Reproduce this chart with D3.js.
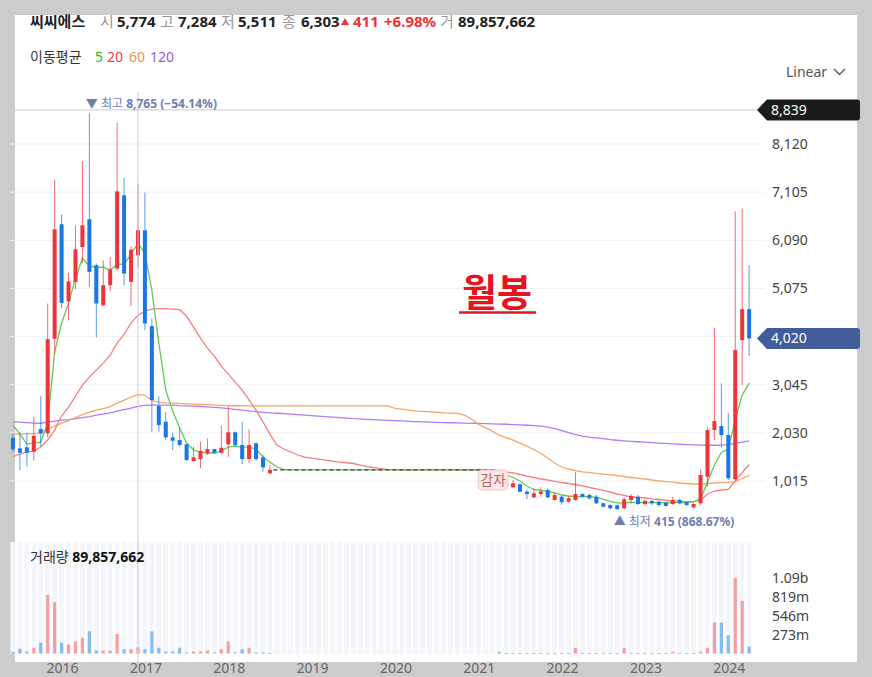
<!DOCTYPE html>
<html>
<head>
<meta charset="utf-8">
<script src="https://cdn.jsdelivr.net/npm/d3@7"></script>
<style>
  body { margin: 0; background: #cccccc; }
  svg { display: block; font-family: "Noto Sans", "Noto Sans CJK KR", sans-serif; }
</style>
</head>
<body>
<svg width="872" height="677"></svg>
<script>
// monthly candles, 2015-06 .. 2024-04 (trading halt 2018-08 .. 2021-03 -> null)
const months = d3.timeMonth.range(new Date(2015, 5, 1), new Date(2024, 4, 1));
const H = null;
const halt = Array(32).fill(H);

const open = [1927, 1704, 1725, 1632, 2110, 2020, 4012, 6427, 4806, 5212, 5949, 6533, 5564, 4722, 5143, 5494, 7038, 5212, 5774, 6301,
  4279, 2595, 2264, 1935, 1878, 1788, 1436, 1478, 1598, 1689, 1611, 1788, 2041, 1773, 1478, 1809, 1514, 1177,
  ...halt,
  1130, 990, 882, 946, 790, 672, 741, 825, 615, 684, 580, 615, 741, 720, 684, 545, 510, 503, 440, 615,
  684, 530, 594, 580, 558, 530, 615, 566, 460, 545, 1106, 2089, 2173, 1984, 1051, 3984, 4637];
const high = [2026, 2041, 2032, 2369, 2805, 4757, 7369, 6632, 5402, 6406, 7760, 8765, 5600, 5669, 5739, 8568, 7403, 5964, 7284, 7095,
  4441, 2805, 2475, 2032, 2146, 1800, 1738, 1843, 1914, 1689, 2180, 2595, 2062, 2264, 2104, 1830, 1563, 1352,
  ...halt,
  1180, 1060, 1036, 967, 840, 861, 882, 861, 769, 699, 699, 1198, 756, 756, 720, 566, 524, 524, 672, 741,
  720, 629, 615, 601, 580, 684, 643, 580, 558, 1261, 2146, 4243, 3073, 2453, 6701, 6758, 5564];
const low = [1626, 1247, 1316, 1442, 1752, 1927, 3704, 4652, 4400, 5058, 5600, 5107, 4041, 4700, 5016, 5459, 5143, 4708, 5511, 4195,
  2053, 2053, 1872, 1668, 1738, 1436, 1421, 1282, 1563, 1590, 1584, 1527, 1738, 1373, 1388, 1436, 1211, 1162,
  ...halt,
  980, 950, 875, 777, 630, 651, 684, 651, 600, 510, 559, 600, 664, 622, 530, 460, 419, 415, 419, 545,
  510, 495, 510, 474, 474, 510, 524, 489, 439, 510, 895, 1878, 1725, 1036, 1036, 3037, 3654];
const close = [1683, 1611, 1611, 1969, 2020, 4005, 6322, 4770, 5221, 5901, 6406, 5423, 4757, 5143, 5473, 7122, 5389, 5892, 6303, 4336,
  2721, 2195, 1935, 1864, 1773, 1457, 1514, 1647, 1689, 1611, 1716, 2041, 1773, 1478, 1773, 1478, 1303, 1250,
  ...halt,
  1000, 1020, 967, 790, 741, 756, 790, 672, 720, 566, 651, 741, 684, 650, 545, 474, 440, 419, 630, 699,
  530, 594, 545, 510, 489, 615, 545, 510, 530, 1141, 2089, 2279, 1984, 1072, 3774, 4637, 4020];
// volume, millions of shares
const volume = [25, 68, 29, 83, 156, 847, 740, 156, 131, 175, 229, 321, 44, 44, 44, 282, 63, 63, 89.857662, 63,
  321, 83, 29, 29, 83, 15, 29, 29, 44, 15, 63, 175, 15, 63, 83, 15, 15, 8,
  ...Array(32).fill(0),
  25, 5, 6, 3, 5, 5, 5, 3, 3, 3, 3, 83, 4, 3, 4, 3, 3, 3, 83, 8,
  4, 3, 3, 3, 3, 25, 8, 3, 4, 25, 83, 448, 448, 263, 1092, 760, 98];

// moving averages as drawn
const ma5 = [2195, 2005, 1794, 1815, 1836, 2237, 3732, 4342, 4764, 5290, 5711, 5543, 5522, 5522, 5459, 5585, 5585, 5796, 6027, 5817,
  5037, 3921, 2931, 2489, 2131, 1815, 1668, 1626, 1605, 1605, 1647, 1731, 1752, 1731, 1731, 1689, 1520, 1415, 1310, 1257,
  1250, 1250, 1250, 1250, 1250, 1250, 1250, 1250, 1250, 1250, 1250, 1250, 1250, 1250, 1250, 1250, 1250, 1250, 1250, 1250,
  1250, 1250, 1250, 1250, 1250, 1250, 1250, 1250, 1250, 1250,
  1205, 1152, 1089, 1015, 910, 836, 815, 790, 762, 720, 699, 684, 684, 684, 668, 625, 583, 552, 552, 562,
  566, 562, 558, 558, 558, 562, 566, 558, 573, 636, 994, 1352, 1615, 1689, 2300, 2826, 3079];
const ma20 = [1531, 1584, 1626, 1647, 1731, 1878, 2089, 2384, 2573, 2805, 3037, 3205, 3353, 3500, 3669, 3921, 4111, 4342, 4511, 4595,
  4637, 4648, 4648, 4637, 4627, 4490, 4258, 4027, 3816, 3648, 3437, 3268, 3100, 2931, 2721, 2510, 2258, 2005, 1773, 1689,
  1626, 1563, 1520, 1499, 1478, 1457, 1436, 1415, 1400, 1384, 1352, 1320, 1299, 1278, 1260, 1250, 1250, 1250, 1250, 1250,
  1250, 1250, 1250, 1250, 1250, 1250, 1250, 1250, 1250, 1250,
  1226, 1205, 1184, 1152, 1120, 1089, 1057, 1036, 1009, 983, 962, 941, 910, 878, 847, 815, 783, 741, 710, 678,
  668, 657, 636, 625, 609, 594, 587, 579, 579, 609, 741, 804, 825, 840, 1015, 1194, 1363];
const ma60 = [2005, 2005, 2015, 2015, 2026, 2110, 2173, 2237, 2289, 2352, 2415, 2468, 2510, 2542, 2584, 2658, 2721, 2784, 2837, 2826,
  2710, 2679, 2664, 2658, 2651, 2643, 2637, 2630, 2624, 2616, 2611, 2605, 2602, 2601, 2600, 2600, 2600, 2600, 2600, 2600,
  2600, 2600, 2600, 2600, 2600, 2600, 2600, 2600, 2600, 2600, 2600, 2600, 2600, 2600, 2600, 2546, 2531, 2510, 2495, 2485,
  2474, 2464, 2453, 2447, 2441, 2405, 2321, 2215, 2142, 2068,
  1984, 1931, 1878, 1815, 1752, 1678, 1594, 1499, 1394, 1310, 1268, 1236, 1209, 1192, 1177, 1162, 1146, 1131, 1110, 1089,
  1072, 1057, 1036, 1019, 1004, 990, 973, 962, 952, 952, 962, 973, 979, 988, 1000, 1068, 1135];
const ma120 = [2264, 2257, 2247, 2237, 2233, 2257, 2279, 2300, 2310, 2331, 2352, 2373, 2405, 2426, 2453, 2489, 2521, 2552, 2588, 2609,
  2616, 2616, 2616, 2616, 2605, 2599, 2595, 2586, 2578, 2567, 2557, 2542, 2525, 2510, 2493, 2479, 2464, 2451, 2443, 2436,
  2426, 2415, 2405, 2394, 2384, 2373, 2363, 2352, 2342, 2331, 2325, 2316, 2308, 2300, 2293, 2287, 2281, 2274, 2268, 2262,
  2257, 2251, 2247, 2243, 2239, 2234, 2232, 2228, 2224, 2220,
  2215, 2211, 2205, 2199, 2190, 2182, 2173, 2152, 2121, 2079, 2036, 1994, 1963, 1942, 1925, 1910, 1889, 1874, 1862, 1851,
  1843, 1834, 1826, 1815, 1807, 1798, 1790, 1784, 1777, 1773, 1769, 1769, 1773, 1784, 1809, 1836, 1863];

const priceTicks = [1015, 2030, 3045, 4060, 5075, 6090, 7105, 8120];
const volTicks = [273e6, 546e6, 819e6, 1092e6];
const volTickLabels = ['273m', '546m', '819m', '1.09b'];
const years = [2016, 2017, 2018, 2019, 2020, 2021, 2022, 2023, 2024];
const crossIdx = 18;      // hovered candle (2016-12)
const crossPrice = 8839;  // crosshair price readout
const maColors = { 5: '#5fcc52', 20: '#f57f7f', 60: '#f8a665', 120: '#b27cf4' };

const data = months.map((m, i) => ({
  m, o: open[i], h: high[i], l: low[i], c: close[i], v: volume[i] * 1e6
}));

const svg = d3.select('svg');
const red = '#ef3339', blue = '#1c75e6';

svg.append('rect').attr('width', 872).attr('height', 677).attr('fill', '#cccccc');
svg.append('rect').attr('x', 15).attr('y', 15).attr('width', 842).attr('height', 647).attr('fill', '#ffffff');

const step = 6.945;
const x = d3.scaleBand().domain(months).range([9.5, 9.5 + months.length * step]).padding(0);
const xc = m => x(m) + x.bandwidth() / 2;
const y = d3.scaleLinear().domain([1015, 8120]).range([481, 144]);
const yv = d3.scaleLinear().domain([0, 1092e6]).range([653.5, 578]);

svg.append('defs').append('clipPath').attr('id', 'plot')
  .append('rect').attr('x', 10).attr('y', 90).attr('width', 748).attr('height', 570);

// header (hovered candle readout)
const head = svg.append('g').attr('font-size', 15);
const headItems = [
  ['씨씨에스', 30, '#222', 700], ['시', 100, '#999', 400], ['5,774', 117, '#222', 700],
  ['고', 160, '#999', 400], ['7,284', 178, '#222', 700], ['저', 221, '#999', 400],
  ['5,511', 238, '#222', 700], ['종', 282, '#999', 400], ['6,303', 301, '#222', 700],
  ['411', 353, red, 700], ['+6.98%', 384, red, 700], ['거', 440, '#999', 400], ['89,857,662', 458, '#222', 700]
];
headItems.forEach(([t, hx, col, w]) => {
  head.append('text').attr('x', hx).attr('y', 27).attr('fill', col).attr('font-weight', w).text(t);
});
head.append('path').attr('d', 'M341,25 L349,25 L345,18 Z').attr('fill', red);

const leg = svg.append('g').attr('font-size', 14);
[['이동평균', 30, '#333'], ['5', 95, '#1fb81f'], ['20', 107, '#ff3a3a'], ['60', 129, '#ff8a3a'], ['120', 150, '#9a55ee']]
  .forEach(([t, lx, c]) => leg.append('text').attr('x', lx).attr('y', 62).attr('fill', c).text(t));

svg.append('text').attr('x', 786).attr('y', 77).attr('font-size', 14).attr('fill', '#555').text('Linear');
svg.append('path').attr('d', 'M834,69 L839.5,74.5 L845,69').attr('fill', 'none').attr('stroke', '#555').attr('stroke-width', 1.3);

// grid
svg.append('g').selectAll('line').data(priceTicks).join('line')
  .attr('x1', 10).attr('x2', 765).attr('y1', d => y(d)).attr('y2', d => y(d))
  .attr('stroke', '#f0f1f4').attr('stroke-width', 1);

// volume pane stripes
const plot = svg.append('g').attr('clip-path', 'url(#plot)');
plot.append('g').selectAll('rect').data(months).join('rect')
  .attr('x', d => xc(d) - 2.6).attr('width', 5.2)
  .attr('y', 542).attr('height', 112).attr('fill', '#f4f6fb');

// crosshair
plot.append('line').attr('x1', 10).attr('x2', 757).attr('y1', y(crossPrice)).attr('y2', y(crossPrice))
  .attr('stroke', '#c9ccd3');
svg.append('line').attr('x1', xc(months[crossIdx])).attr('x2', xc(months[crossIdx]))
  .attr('y1', 92).attr('y2', 677).attr('stroke', '#c9ccd3');

// volume bars
plot.append('g').selectAll('rect').data(data.filter(d => d.v > 0)).join('rect')
  .attr('x', d => xc(d.m) - 1.6).attr('width', 3.2)
  .attr('y', d => yv(d.v)).attr('height', d => Math.max(0.8, yv(0) - yv(d.v)))
  .attr('fill', d => d.c >= d.o ? '#f4a0a3' : '#84bdf5');

// moving averages
const line = d3.line().x(d => xc(d.m)).y(d => y(d.v));
[[120, ma120], [60, ma60], [20, ma20], [5, ma5]].forEach(([k, arr]) => {
  plot.append('path').datum(arr.map((v, i) => ({ m: months[i], v })))
    .attr('d', line).attr('fill', 'none').attr('stroke', maColors[k]).attr('stroke-width', 1.3);
});

// halted period: flat dashed line at the last close
const haltIdx = data.map((d, i) => d.o === null ? i : -1).filter(i => i >= 0);
const lastClose = close[haltIdx[0] - 1];
plot.append('line')
  .attr('x1', xc(months[haltIdx[0]]) - 3.5).attr('x2', xc(months[haltIdx[haltIdx.length - 1]]) + 3.5)
  .attr('y1', y(lastClose)).attr('y2', y(lastClose))
  .attr('stroke', '#555').attr('stroke-width', 1.6).attr('stroke-dasharray', '4,3').attr('opacity', 0.85);

// candles
const candles = plot.append('g').selectAll('g').data(data.filter(d => d.o !== null)).join('g');
candles.append('line')
  .attr('x1', d => xc(d.m)).attr('x2', d => xc(d.m))
  .attr('y1', d => y(d.h)).attr('y2', d => y(d.l))
  .attr('stroke', d => d.c >= d.o ? red : blue).attr('stroke-opacity', 0.72).attr('stroke-width', 1);
candles.append('rect')
  .attr('x', d => xc(d.m) - 2).attr('width', 4)
  .attr('y', d => y(Math.max(d.o, d.c)))
  .attr('height', d => Math.max(1.5, Math.abs(y(d.o) - y(d.c))))
  .attr('fill', d => d.c >= d.o ? red : blue);

// 감자 marker at resumption
const resume = months[haltIdx[haltIdx.length - 1] + 1];
const gx = xc(resume) - 21;
svg.append('rect').attr('x', gx).attr('y', 470).attr('width', 30).attr('height', 20).attr('rx', 4)
  .attr('fill', '#fbe6e6').attr('fill-opacity', 0.92).attr('stroke', '#f3caca');
svg.append('text').attr('x', gx + 15).attr('y', 485).attr('text-anchor', 'middle')
  .attr('font-size', 14).attr('fill', '#b96565').text('감자');

// high / low markers
const lastPrice = close[close.length - 1];
const hiIdx = d3.maxIndex(high), loIdx = d3.minIndex(low);
const pct = v => (lastPrice / v - 1) * 100;
const hi = svg.append('text').attr('x', xc(months[hiIdx]) - 3.5).attr('y', y(high[hiIdx]) - 5)
  .attr('font-size', 12).attr('fill', '#6d7fb3');
hi.append('tspan').text('▼ 최고 ');
hi.append('tspan').attr('font-weight', 700).text(d3.format(',')(high[hiIdx]) + ' (' + d3.format('.2f')(pct(high[hiIdx])) + '%)');
const lo = svg.append('text').attr('x', xc(months[loIdx]) - 3.5).attr('y', y(low[loIdx]) + 17)
  .attr('font-size', 12).attr('fill', '#6d7fb3');
lo.append('tspan').text('▲ 최저 ');
lo.append('tspan').attr('font-weight', 700).text(d3.format(',')(low[loIdx]) + ' (' + d3.format('.2f')(pct(low[loIdx])) + '%)');

// title
svg.append('text').attr('x', 497).attr('y', 306).attr('text-anchor', 'middle')
  .attr('font-size', 38).attr('font-weight', 700).attr('fill', '#e6141c').text('월봉');
svg.append('line').attr('x1', 459).attr('x2', 536).attr('y1', 312.5).attr('y2', 312.5)
  .attr('stroke', '#e6141c').attr('stroke-width', 2.5);

// price flags: crosshair readout and last price
const flagVals = [crossPrice, lastPrice];

// right price axis, labels hidden where a flag sits
svg.append('g').selectAll('text')
  .data(priceTicks.filter(t => flagVals.every(f => Math.abs(y(t) - y(f)) > 12))).join('text')
  .attr('x', 772).attr('y', d => y(d)).attr('dy', '0.35em')
  .attr('font-size', 14).attr('fill', '#444').text(d => d3.format(',')(d));

const flag = (v, fill) => {
  const fy = y(v);
  svg.append('path')
    .attr('d', `M757,${fy} L767,${fy - 10.5} L857,${fy - 10.5} Q860,${fy - 10.5} 860,${fy - 7.5} L860,${fy + 7.5} Q860,${fy + 10.5} 857,${fy + 10.5} L767,${fy + 10.5} Z`)
    .attr('fill', fill);
  svg.append('text').attr('x', 771).attr('y', fy).attr('dy', '0.35em')
    .attr('font-size', 14).attr('fill', '#fff').text(d3.format(',')(v));
};
flag(crossPrice, '#1b1b1b');
flag(lastPrice, '#405c9b');

// volume axis and label
svg.append('g').selectAll('text').data(volTicks).join('text')
  .attr('x', 772).attr('y', d => yv(d)).attr('dy', '0.35em')
  .attr('font-size', 14).attr('fill', '#444').text((d, i) => volTickLabels[i]);
const vl = svg.append('text').attr('x', 30).attr('y', 562).attr('font-size', 14).attr('fill', '#333');
vl.append('tspan').text('거래량 ');
vl.append('tspan').attr('font-weight', 700).attr('fill', '#111').text(d3.format(',')(Math.round(volume[crossIdx] * 1e6)));

// year axis
svg.append('g').selectAll('text').data(years).join('text')
  .attr('x', d => xc(new Date(d, 0, 1)) + 1).attr('y', 673).attr('text-anchor', 'middle')
  .attr('font-size', 14).attr('fill', '#666').text(d => d);
</script>
</body>
</html>
